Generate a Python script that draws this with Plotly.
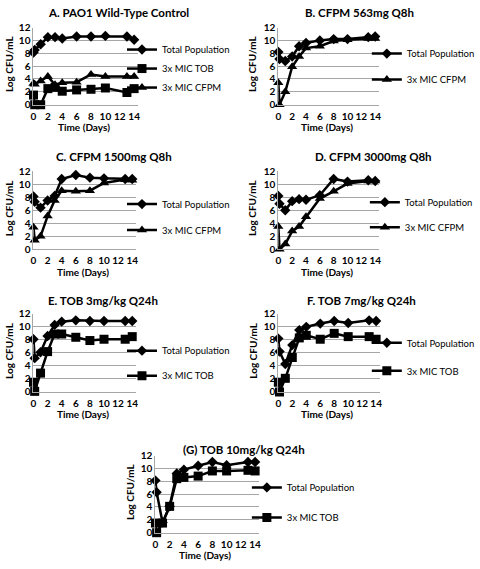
import plotly.graph_objects as go

W, H = 480, 569

times = [0, 0.17, 1, 2, 3, 4, 6, 8, 10, 13, 14]
x_ticks = [0, 2, 4, 6, 8, 10, 12, 14]
y_ticks = [0, 2, 4, 6, 8, 10, 12]

A_total = [8.1, 8.5, 9.4, 10.5, 10.5, 10.3, 10.6, 10.6, 10.7, 10.6, 10.1]
A_tob = [1.5, 0, 0, 2.5, 2.7, 2.1, 2.3, 2.4, 2.6, 1.9, 2.5]
A_cfpm = [3.3, 3.2, 3.7, 4.4, 3.1, 3.4, 3.5, 4.7, 4.4, 4.4, 4.4]

B_total = [8.2, 7.1, 6.8, 7.5, 9.1, 9.6, 10.0, 10.2, 10.2, 10.5, 10.6]
B_cfpm = [3.4, 0, 2.0, 5.9, 7.5, 8.8, 9.1, 9.9, 10.1, 10.3, 10.3]

C_total = [8.1, 7.3, 6.4, 7.5, 8.2, 10.8, 11.4, 11.0, 10.9, 10.8, 10.8]
C_cfpm = [3.4, 1.4, 2.0, 5.1, 7.5, 9.0, 8.9, 9.0, 10.2, 10.7, 10.6]

D_total = [8.2, 7.0, 6.0, 7.4, 7.7, 7.6, 8.3, 10.8, 10.4, 10.6, 10.5]
D_cfpm = [3.5, 0, 0.8, 2.8, 3.5, 5.0, 7.8, 8.9, 10.1, 10.5, 10.5]

E_total = [8.1, 5.2, 6.1, 8.6, 10.3, 10.8, 11.0, 10.9, 10.9, 10.9, 10.9]
E_tob = [1.5, 0.1, 2.9, 6.2, 8.9, 8.9, 8.4, 7.9, 8.1, 8.1, 8.5]

F_total = [8.2, 6.2, 4.3, 7.2, 9.5, 10.0, 10.5, 10.9, 10.6, 11.0, 10.9]
F_tob = [1.5, 0, 2.1, 5.3, 8.3, 8.7, 8.1, 9.0, 8.5, 8.5, 8.1]

G_total = [8.1, 6.3, 1.6, 4.1, 9.2, 9.8, 10.4, 11.0, 10.5, 11.0, 11.0]
G_tob = [1.5, 0, 1.5, 4.1, 8.4, 8.6, 8.8, 9.6, 9.6, 9.7, 9.6]

panel_titles = ["A. PAO1 Wild-Type Control", "B. CFPM 563mg Q8h", "C. CFPM 1500mg Q8h",
                "D. CFPM 3000mg Q8h", "E. TOB 3mg/kg Q24h", "F. TOB 7mg/kg Q24h",
                "(G) TOB 10mg/kg Q24h"]
X_TITLE = "Time (Days)"
Y_TITLE = "Log CFU/mL"

NAME_TOTAL = "Total Population"
NAME_TOB = "3x MIC TOB"
NAME_CFPM = "3x MIC CFPM"

panels = [
    [(NAME_TOTAL, A_total, "diamond"), (NAME_TOB, A_tob, "square"), (NAME_CFPM, A_cfpm, "triangle-up")],
    [(NAME_TOTAL, B_total, "diamond"), (NAME_CFPM, B_cfpm, "triangle-up")],
    [(NAME_TOTAL, C_total, "diamond"), (NAME_CFPM, C_cfpm, "triangle-up")],
    [(NAME_TOTAL, D_total, "diamond"), (NAME_CFPM, D_cfpm, "triangle-up")],
    [(NAME_TOTAL, E_total, "diamond"), (NAME_TOB, E_tob, "square")],
    [(NAME_TOTAL, F_total, "diamond"), (NAME_TOB, F_tob, "square")],
    [(NAME_TOTAL, G_total, "diamond"), (NAME_TOB, G_tob, "square")],
]

# layout geometry in pixels: plot area (x0, x1, ytop, ybottom)
areas = [(31, 137, 21, 100), (280, 382, 21, 100), (31, 135, 168, 248), (280, 382, 168, 248),
         (31, 135, 314, 394), (280, 383, 314, 394), (155, 260, 459, 538)]
# legend: (left x px, center y px, group gap)
legends = [(121, 63, 0), (370, 61, 7), (121, 215, 7), (368, 212.5, 6), (121, 364.5, 6),
           (370, 358, 9), (248, 507, 11)]
# titles: (center x px, top y px)
title_pos = [(117, -3), (363, -3), (113, 144), (377, 144), (102, 292), (365, 292), (245, 444)]
# y-axis title x centre px
ytitle_x = [6, 253, 6, 254, 6, 254, 129]

sizes = {"diamond": 8, "square": 9, "triangle-up": 9}

px = lambda x: x / W
py = lambda y: 1 - y / H

FONT = "Lato"
GRID = "#a6a6a6"

fig = go.Figure()
layout = dict(width=W, height=H, margin=dict(l=0, r=0, t=0, b=0),
              paper_bgcolor="white", plot_bgcolor="white",
              font=dict(family=FONT, color="black"), annotations=[])

for i, (series, area, leg, tp, title, ytx) in enumerate(zip(panels, areas, legends, title_pos,
                                                             panel_titles, ytitle_x)):
    n = i + 1
    sfx = "" if n == 1 else str(n)
    for j, (name, vals, sym) in enumerate(series):
        fig.add_trace(go.Scatter(
            x=times, y=vals, name=name, mode="lines+markers",
            line=dict(color="black", width=2.5),
            marker=dict(symbol=sym, size=sizes[sym], color="black"),
            xaxis="x" + sfx, yaxis="y" + sfx,
            legend="legend" + sfx, legendgroup=f"g{n}_{j}", showlegend=True, cliponaxis=False))
    x0, x1, yt, yb = area
    layout["xaxis" + sfx] = dict(domain=[px(x0), px(x1)], range=[0, 14.5], anchor="y" + sfx,
                                 tickvals=x_ticks, tickangle=0, showgrid=False, zeroline=False,
                                 showline=True, linecolor=GRID, linewidth=1, ticks="",
                                 ticklabelstandoff=2,
                                 tickfont=dict(family=FONT, size=10, color="black", weight="bold"))
    layout["yaxis" + sfx] = dict(domain=[py(yb), py(yt)], range=[0, 12], anchor="x" + sfx,
                                 tickvals=y_ticks, showgrid=True, gridcolor=GRID, gridwidth=1,
                                 zeroline=False, showline=True, linecolor=GRID, linewidth=1,
                                 ticks="", ticklabelstandoff=0,
                                 tickfont=dict(family=FONT, size=10, color="black", weight="bold"))
    lx, ly, gap = leg
    layout["legend" + sfx] = dict(x=px(lx), y=py(ly), xanchor="left", yanchor="middle",
                                  bgcolor="rgba(0,0,0,0)", tracegroupgap=gap,
                                  font=dict(family=FONT, size=9.5, color="black"))
    layout["annotations"].append(dict(text=f"<b>{title}</b>", x=px(tp[0]), y=py(tp[1]),
                                      xref="paper", yref="paper", showarrow=False,
                                      xanchor="center", yanchor="top",
                                      font=dict(family=FONT, size=11.5, color="black")))
    # axis titles
    xmid = x0 + (x1 - x0) * 7 / 14.5
    layout["annotations"].append(dict(text=f"<b>{X_TITLE}</b>", x=px(xmid), y=py(yb + 23),
                                      xref="paper", yref="paper", showarrow=False,
                                      xanchor="center", yanchor="middle",
                                      font=dict(family=FONT, size=10, color="black")))
    layout["annotations"].append(dict(text=f"<b>{Y_TITLE}</b>", x=px(ytx), y=py((yt + yb) / 2 - 3),
                                      xref="paper", yref="paper", showarrow=False, textangle=-90,
                                      xanchor="center", yanchor="middle",
                                      font=dict(family=FONT, size=10, color="black")))

fig.update_layout(**layout)
fig.write_html("out.html", config={"displayModeBar": False},
               post_script="document.body.style.margin='0';")
